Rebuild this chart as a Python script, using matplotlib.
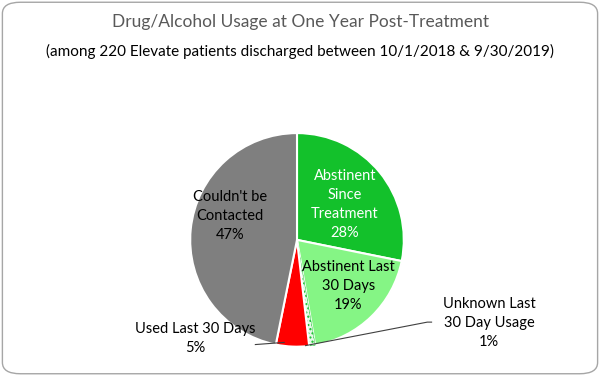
import matplotlib.pyplot as plt
from matplotlib.patches import FancyBboxPatch

plt.rcParams['font.family'] = ['Lato', 'DejaVu Sans']

# patient counts (n = 220)
categories = ['Abstinent Since Treatment', 'Abstinent Last 30 Days',
              'Unknown Last 30 Day Usage', 'Used Last 30 Days', "Couldn't be Contacted"]
counts = [62, 42, 2, 11, 103]
pct_labels = ['28%', '19%', '1%', '5%', '47%']
colors = ['#13C12B', '#85F585', '#E8F8E8', '#FF0000', '#7F7F7F']

fig = plt.figure(figsize=(6, 3.76), dpi=100)

# rounded chart border
border = FancyBboxPatch((0.004, 0.006), 0.992, 0.988, boxstyle='round,pad=0,rounding_size=0.03',
                        transform=fig.transFigure, fill=False, edgecolor='#A6A6A6', linewidth=1)
fig.patches.append(border)

fig.text(0.5, 0.941, 'Drug/Alcohol Usage at One Year Post-Treatment', ha='center', va='center',
         fontsize=12.5, color='#595959')
fig.text(0.5, 0.862, '(among 220 Elevate patients discharged between 10/1/2018 & 9/30/2019)',
         ha='center', va='center', fontsize=11, color='black')

ax = fig.add_axes([0.495 - 0.178, 0.362 - 0.285, 0.356, 0.57])
wedges, _ = ax.pie(counts, colors=colors, startangle=90, counterclock=False,
                   wedgeprops=dict(edgecolor='white', linewidth=1.5))
wedges[2].set_hatch('....')
wedges[2].set_edgecolor('#13C12B')
wedges[2].set_linewidth(0.3)
ax.set_xlim(-1, 1)
ax.set_ylim(-1, 1)
ax.set_aspect('equal')
ax.axis('off')

fs = 10.5
ls = 1.45
ax.text(0.45, 0.33, 'Abstinent\nSince\nTreatment\n' + pct_labels[0], ha='center', va='center',
        fontsize=fs, color='white', linespacing=ls)
ax.text(0.48, -0.43, 'Abstinent Last\n30 Days\n' + pct_labels[1], ha='center', va='center',
        fontsize=fs, color='black', linespacing=ls)
ax.text(-0.63, 0.22, "Couldn't be\nContacted\n" + pct_labels[4], ha='center', va='center',
        fontsize=fs, color='black', linespacing=ls)

# outside labels with leader lines
ax.text(-0.95, -0.925, 'Used Last 30 Days\n' + pct_labels[3], ha='center', va='center',
        fontsize=fs, color='black', linespacing=ls, clip_on=False)
ax.plot([-0.39, -0.12], [-0.98, -0.96], color='#404040', linewidth=0.8, clip_on=False)
ax.text(1.8, -0.78, 'Unknown Last\n30 Day Usage\n' + pct_labels[2], ha='center', va='center',
        fontsize=fs, color='black', linespacing=ls, clip_on=False)
ax.plot([0.08, 1.22, 1.26], [-0.99, -0.77, -0.77], color='#404040', linewidth=0.8, clip_on=False)

fig.savefig('out.png', dpi=100)
